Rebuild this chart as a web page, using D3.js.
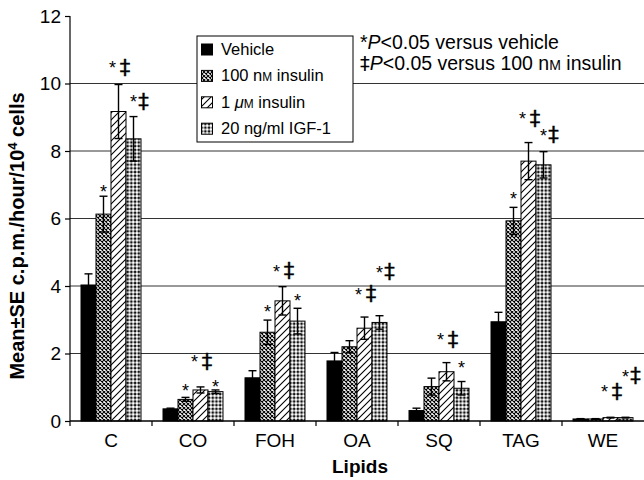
<!DOCTYPE html>
<html><head><meta charset="utf-8">
<script src="https://cdn.jsdelivr.net/npm/d3@7"></script>
<style>body{margin:0;background:#fff}svg{display:block}text{font-family:"Liberation Sans",Arial,Helvetica,sans-serif;fill:#000}.dd{font-family:"DejaVu Sans",sans-serif}</style>
</head><body><svg id="c" width="644" height="480"></svg>
<script>
// ---- data ----
const categories = ["C","CO","FOH","OA","SQ","TAG","WE"];
const seriesKeys = ["vehicle","ins100","ins1","igf"];
const vehicle   = [4.03, 0.36, 1.28, 1.78, 0.31, 2.94, 0.06];
const vehicleSE = [0.33, 0.02, 0.21, 0.25, 0.07, 0.28, 0.01];
const ins100    = [6.13, 0.64, 2.63, 2.20, 1.02, 5.93, 0.06];
const ins100SE  = [0.53, 0.06, 0.36, 0.18, 0.25, 0.40, 0.01];
const ins1      = [9.17, 0.92, 3.56, 2.75, 1.46, 7.70, 0.10];
const ins1SE    = [0.80, 0.09, 0.42, 0.33, 0.27, 0.55, 0.01];
const igf       = [8.36, 0.87, 2.96, 2.92, 0.97, 7.59, 0.10];
const igfSE     = [0.66, 0.05, 0.38, 0.20, 0.20, 0.39, 0.01];
// significance marks and the value level where each mark sits
const vehicleSig      = ["","","","","","",""];
const vehicleSigLevel = [null,null,null,null,null,null,null];
const ins100Sig      = ["*","*","*","","","*",""];
const ins100SigLevel = [6.62, 0.72, 3.06, null, null, 6.40, null];
const ins1Sig        = ["*‡","*‡","*‡","*‡","*‡","*‡","*‡"];
const ins1SigLevel   = [10.28, 1.57, 4.25, 3.56, 2.22, 8.76, 0.68];
const igfSig         = ["*‡","*","*","*‡","*","*‡","*‡"];
const igfSigLevel    = [9.27, 0.84, 3.38, 4.21, 1.40, 8.27, 1.13];
const yTicks = [0,2,4,6,8,10,12];
const xTitle = "Lipids";
const legendParts = [
  [{t:"Vehicle"}],
  [{t:"100 n"},{t:"M",small:true},{t:" insulin"}],
  [{t:"1 "},{t:"\u03bc",italic:true},{t:"M",small:true},{t:" insulin"}],
  [{t:"20 ng/ml IGF-1"}]
];
const noteLines = [
  [{t:"*"},{t:"P",italic:true},{t:"<0.05 versus vehicle"}],
  [{t:"‡",dd:true},{t:"P",italic:true},{t:"<0.05 versus 100 n"},{t:"M",small:true},{t:" insulin"}]
];

const seriesData = {
  vehicle:{v:vehicle,se:vehicleSE,sig:vehicleSig,lvl:vehicleSigLevel},
  ins100:{v:ins100,se:ins100SE,sig:ins100Sig,lvl:ins100SigLevel},
  ins1:{v:ins1,se:ins1SE,sig:ins1Sig,lvl:ins1SigLevel},
  igf:{v:igf,se:igfSE,sig:igfSig,lvl:igfSigLevel}
};

// ---- drawing ----
const svg = d3.select("#c");
const L = 70, R = 644, T = 16, B = 421;
const x0 = d3.scaleBand().domain(categories).range([L, R]).paddingInner(0).paddingOuter(0);
const x1 = d3.scaleBand().domain(seriesKeys).range([0, x0.bandwidth()]).paddingInner(0).paddingOuter(0.7333);
const y = d3.scaleLinear().domain([0, 12]).range([B, T]);

const defs = svg.append("defs");
const p1 = defs.append("pattern").attr("id","pCross").attr("patternUnits","userSpaceOnUse").attr("width",4).attr("height",4);
p1.append("rect").attr("width",4).attr("height",4).attr("fill","#fff");
p1.append("path").attr("d","M0,0L4,4M4,0L0,4").attr("stroke","#000").attr("stroke-width",1.1);
const p2 = defs.append("pattern").attr("id","pDiag").attr("patternUnits","userSpaceOnUse").attr("width",7).attr("height",7);
p2.append("rect").attr("width",7).attr("height",7).attr("fill","#fff");
p2.append("path").attr("d","M0,7L7,0M-1,1L1,-1M6,8L8,6").attr("stroke","#000").attr("stroke-width",1.1);
const p3 = defs.append("pattern").attr("id","pDots").attr("patternUnits","userSpaceOnUse").attr("width",3.7).attr("height",3.7);
p3.append("rect").attr("width",3.7).attr("height",3.7).attr("fill","#fff");
p3.append("path").attr("d","M0.5,1.2h2.7v1.3h-2.7zM1.2,0.5h1.3v2.7h-1.3z").attr("fill","#000");
const fills = {vehicle:"#000", ins100:"url(#pCross)", ins1:"url(#pDiag)", igf:"url(#pDots)"};
// horizontal placement of the "*" and "‡" marks relative to the bar centre
const starOff = {vehicle:0, ins100:0, ins1:-6, igf:0};
const ddOff   = {vehicle:0, ins100:0, ins1:6.5, igf:10};

// gridlines
svg.append("g").selectAll("line").data(yTicks.filter(d=>d>0 && d<12)).join("line")
  .attr("x1",L).attr("x2",R).attr("y1",d=>y(d)).attr("y2",d=>y(d))
  .attr("stroke","#333").attr("stroke-width",1);

// bars
const gBars = svg.append("g");
categories.forEach((c,i)=>{
  seriesKeys.forEach(k=>{
    const s = seriesData[k];
    const bx = x0(c) + x1(k), bw = x1.bandwidth();
    gBars.append("rect").attr("x",bx).attr("y",y(s.v[i])).attr("width",bw).attr("height",y(0)-y(s.v[i]))
      .attr("fill",fills[k]).attr("stroke","#000").attr("stroke-width",1);
  });
});
// error bars
const gErr = svg.append("g").attr("stroke","#000").attr("stroke-width",1.4);
categories.forEach((c,i)=>{
  seriesKeys.forEach(k=>{
    const s = seriesData[k];
    const cx = x0(c) + x1(k) + x1.bandwidth()/2;
    const hi = y(s.v[i]+s.se[i]), lo = y(Math.max(0,s.v[i]-s.se[i]));
    gErr.append("line").attr("x1",cx).attr("x2",cx).attr("y1",hi).attr("y2",lo);
    gErr.append("line").attr("x1",cx-4).attr("x2",cx+4).attr("y1",hi).attr("y2",hi);
    gErr.append("line").attr("x1",cx-4).attr("x2",cx+4).attr("y1",lo).attr("y2",lo);
  });
});
// significance marks
const gSig = svg.append("g");
categories.forEach((c,i)=>{
  seriesKeys.forEach(k=>{
    const s = seriesData[k];
    if(!s.sig[i]) return;
    const cx = x0(c) + x1(k) + x1.bandwidth()/2;
    const yy = y(s.lvl[i]);
    if(s.sig[i].length>1){
      gSig.append("text").attr("x",cx+starOff[k]).attr("y",yy).attr("text-anchor","middle").style("font-size","18px").text("*");
      gSig.append("text").attr("class","dd").attr("x",cx+ddOff[k]).attr("y",yy+0.5).attr("text-anchor","middle")
        .style("font-size","21px").attr("stroke","#000").attr("stroke-width",0.4).text("‡");
    } else {
      gSig.append("text").attr("x",cx).attr("y",yy).attr("text-anchor","middle").style("font-size","18px").text("*");
    }
  });
});

// axes
const yAxis = d3.axisLeft(y).tickValues(yTicks).tickSize(5).tickPadding(4).tickFormat(d3.format("d"));
const gy = svg.append("g").attr("transform",`translate(${L},0)`).call(yAxis);
gy.select(".domain").attr("stroke","#000").attr("stroke-width",1.2).attr("d",`M0,${T}V${B}`);
gy.selectAll(".tick line").attr("stroke","#000").attr("stroke-width",1.2);
gy.selectAll(".tick text").style("font-size","19px").style("font-family",'"Liberation Sans",Arial,sans-serif').attr("fill","#000");

const gx = svg.append("g").attr("transform",`translate(0,${B})`);
gx.append("line").attr("x1",L).attr("x2",R).attr("stroke","#000").attr("stroke-width",1.5);
gx.selectAll("line.tk").data(categories).join("line").attr("class","tk")
  .attr("x1",d=>x0(d)).attr("x2",d=>x0(d)).attr("y1",0).attr("y2",5).attr("stroke","#000").attr("stroke-width",1.2);
gx.selectAll("text").data(categories).join("text")
  .attr("x",d=>x0(d)+x0.bandwidth()/2).attr("y",26).attr("text-anchor","middle").style("font-size","19px").text(d=>d);

svg.append("text").attr("x",360).attr("y",473).attr("text-anchor","middle")
  .style("font-size","19px").style("font-weight","bold").text(xTitle);

const yt = svg.append("text").attr("transform","translate(24,236) rotate(-90)").attr("text-anchor","middle")
  .style("font-size","20px").style("font-weight","bold");
yt.append("tspan").text("Mean\u00b1SE c.p.m./hour/10");
yt.append("tspan").attr("dy",-7).style("font-size","13px").text("4");
yt.append("tspan").attr("dy",7).text(" cells");

// legend
const lg = svg.append("g");
lg.append("rect").attr("x",197).attr("y",36).attr("width",156).attr("height",106).attr("fill","#fff").attr("stroke","#000").attr("stroke-width",1);
function addParts(t, parts, fs){
  parts.forEach(p=>{
    const ts = t.append("tspan").text(p.t);
    if(p.small) ts.style("font-size",(fs*0.72)+"px");
    if(p.dd) ts.attr("class","dd").style("font-size",(fs*1.0)+"px");
    if(p.italic) ts.style("font-style","italic");
  });
}
seriesKeys.forEach((k,i)=>{
  const by = 55 + i*26.4;
  lg.append("rect").attr("x",201.5).attr("y",by-11).attr("width",11).attr("height",11).attr("fill",fills[k]).attr("stroke","#000").attr("stroke-width",1);
  const t = lg.append("text").attr("x",221).attr("y",by).style("font-size","16.5px");
  addParts(t, legendParts[i], 16.5);
});
// note
noteLines.forEach((parts,i)=>{
  const t = svg.append("text").attr("x",360).attr("y",48.5 + i*21).style("font-size","19.5px");
  addParts(t, parts, 19.5);
});
</script></body></html>
